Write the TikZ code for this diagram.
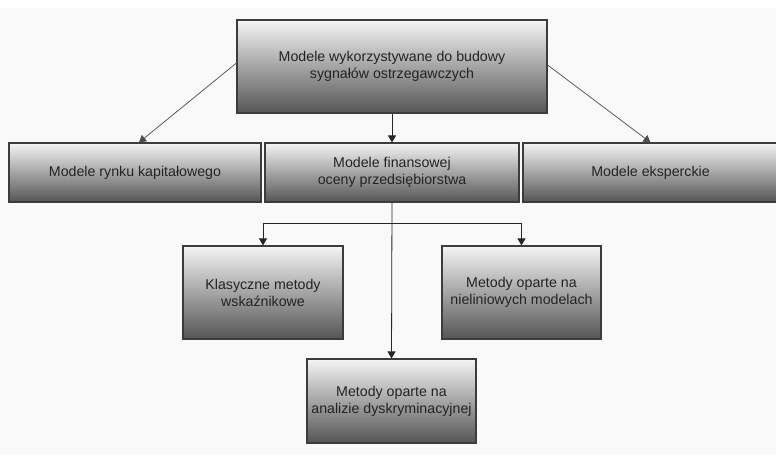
\documentclass[tikz,border=0pt]{standalone}
\usepackage{fontspec}
\setmainfont{Liberation Sans}
\usetikzlibrary{arrows.meta,calc}
\definecolor{boxtop}{RGB}{244,244,244}
\definecolor{boxbot}{RGB}{85,85,85}
\definecolor{boxline}{RGB}{60,60,60}
\definecolor{txt}{RGB}{35,35,35}
\definecolor{bg}{RGB}{249,249,249}
\tikzset{
  box/.style={draw=boxline, line width=1.1pt, top color=boxtop, bottom color=boxbot,
    align=center, text=txt, font=\fontsize{14.2}{17}\selectfont, inner sep=0pt},
  conn/.style={draw=black!85, line width=0.8pt, -{Triangle[width=8pt,length=7pt]}},
  diag/.style={draw=black!70, line width=0.7pt, -{Triangle[width=8pt,length=7pt]}}
}
\begin{document}
\begin{tikzpicture}[x=1pt,y=-1pt]
\useasboundingbox (0,0) rectangle (776,455);
\fill[white] (0,0) rectangle (776,455);
\fill[bg] (0,8) rectangle (776,455);
\begin{scope}
\clip (0,0) rectangle (776,455);
\node[box, minimum width=310, minimum height=93] (top) at (392,66.5) {Modele wykorzystywane do budowy\\sygnałów ostrzegawczych};
\node[box, minimum width=252, minimum height=59] (rynek) at (135,172.5) {Modele rynku kapitałowego};
\node[box, minimum width=254, minimum height=59] (fin) at (392,172.5) {Modele finansowej\\oceny przedsiębiorstwa};
\node[box, minimum width=255, minimum height=59] (eksp) at (650.5,172.5) {Modele eksperckie};
\node[box, minimum width=160, minimum height=93] (klas) at (263,292.5) {Klasyczne metody\\wskaźnikowe};
\node[box, minimum width=159, minimum height=93] (nielin) at (521.5,292.5) {Metody oparte na\\nieliniowych modelach};
\node[box, minimum width=169, minimum height=84] (dysk) at (391.5,401) {Metody oparte na\\analizie dyskryminacyjnej};
\end{scope}
\draw[diag] ([yshift=3.5]top.west) -- ([xshift=4]rynek.north);
\draw[diag] ([yshift=1.5]top.east) -- (eksp.north);
\draw[conn] (top.south) -- (fin.north);
\draw[conn] (fin.south) -- (dysk.north);
\coordinate (j) at ($(fin.south)+(0,21)$);
\draw[conn] (j) -| (klas.north);
\draw[conn] (j) -| (nielin.north);
\end{tikzpicture}
\end{document}
